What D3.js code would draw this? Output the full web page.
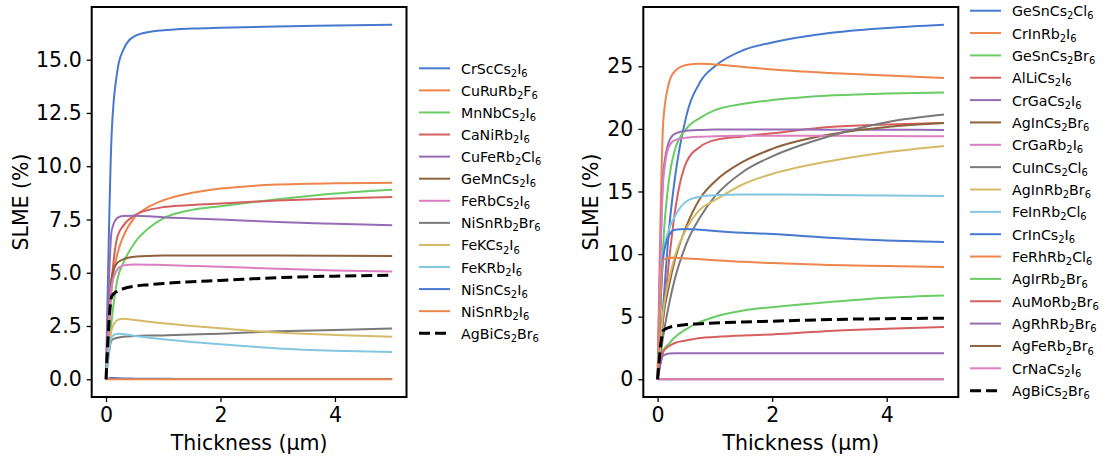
<!DOCTYPE html>
<html>
<head>
<meta charset="utf-8">
<script src="https://cdn.jsdelivr.net/npm/d3@7"></script>
<style>
  body { margin: 0; background: #fff; }
  svg text { font-family: "DejaVu Sans", sans-serif; fill: #000; }
</style>
</head>
<body>
<svg id="chart" width="1105" height="460"></svg>
<script>
// Absorber thickness (µm) at which SLME was evaluated
const thickness = [0, 0.1, 0.2, 0.3, 0.5, 0.75, 1, 1.5, 2, 3, 4, 5];

// Seaborn "muted" colour cycle
const palette = ["#4878d0", "#ee854a", "#6acc64", "#d65f5f", "#956cb4",
                 "#8c613c", "#dc7ec0", "#797979", "#d5bb67", "#82c6e2"];

// Reference compound (dashed, both panels)
const AgBiCs2Br6 = [0, 3.9, 4.14, 4.25, 4.37, 4.44, 4.5, 4.58, 4.64, 4.77, 4.84, 4.88];

// Left panel SLME (%)
const CrScCs2I6  = [0, 11.6, 14.5, 15.45, 16.1, 16.3, 16.38, 16.46, 16.5, 16.56, 16.6, 16.64];
const CuRuRb2F6  = [0, 4.3, 5.9, 6.7, 7.6, 8.1, 8.4, 8.75, 8.95, 9.14, 9.2, 9.22];
const MnNbCs2I6  = [0, 2.8, 4.7, 5.45, 6.4, 7.1, 7.55, 7.95, 8.12, 8.45, 8.72, 8.9];
const CaNiRb2I6  = [0, 4.6, 6.7, 7.2, 7.7, 7.95, 8.08, 8.18, 8.25, 8.39, 8.48, 8.55];
const CuFeRb2Cl6 = [0, 7.0, 7.58, 7.66, 7.68, 7.65, 7.6, 7.55, 7.5, 7.38, 7.3, 7.23];
const GeMnCs2I6  = [0, 4.8, 5.47, 5.63, 5.75, 5.79, 5.81, 5.81, 5.81, 5.81, 5.8, 5.78];
const FeRbCs2I6  = [0, 4.4, 5.16, 5.34, 5.39, 5.38, 5.36, 5.32, 5.28, 5.19, 5.11, 5.06];
const NiSnRb2Br6 = [0, 1.84, 1.95, 2.0, 2.03, 2.05, 2.06, 2.1, 2.14, 2.25, 2.31, 2.38];
const FeKCs2I6   = [0, 2.34, 2.78, 2.84, 2.78, 2.7, 2.63, 2.5, 2.39, 2.19, 2.08, 2.0];
const FeKRb2I6   = [0, 2.0, 2.14, 2.13, 2.03, 1.95, 1.88, 1.75, 1.64, 1.45, 1.34, 1.28];
const NiSnCs2I6  = [0, 0.06, 0.05, 0.04, 0.03, 0.02, 0.02, 0.01, 0.01, 0.01, 0.01, 0.01];
const NiSnRb2I6  = [0, 0, 0, 0, 0, 0, 0, 0, 0, 0, 0, 0];

// Right panel SLME (%)
const GeSnCs2Cl6 = [0, 6.0, 12.0, 16.0, 21.0, 23.8, 25.0, 26.3, 26.9, 27.66, 28.06, 28.32];
const CrInRb2I6  = [0, 20.7, 23.7, 24.6, 25.1, 25.2, 25.15, 24.95, 24.75, 24.47, 24.26, 24.07];
const GeSnCs2Br6 = [0, 11.0, 16.0, 18.3, 20.0, 20.9, 21.5, 22.0, 22.3, 22.66, 22.82, 22.9];
const AlLiCs2I6  = [0, 5.0, 9.5, 13.3, 17.3, 18.6, 19.1, 19.4, 19.65, 20.16, 20.35, 20.48];
const CrGaCs2I6  = [0, 16.5, 19.0, 19.6, 19.85, 19.92, 19.95, 19.95, 19.95, 19.94, 19.93, 19.92];
const AgInCs2Br6 = [0, 5.0, 7.5, 9.5, 12.2, 14.5, 15.8, 17.4, 18.4, 19.55, 20.16, 20.48];
const CrGaRb2I6  = [0, 16.0, 18.6, 19.1, 19.3, 19.38, 19.42, 19.45, 19.46, 19.45, 19.43, 19.41];
const CuInCs2Cl6 = [0, 3.5, 6.0, 8.0, 10.8, 13.0, 14.6, 16.6, 17.8, 19.41, 20.53, 21.14];
const AgInRb2Br6 = [0, 5.5, 8.0, 9.8, 12.0, 13.6, 14.3, 15.6, 16.4, 17.42, 18.14, 18.64];
const FeInRb2Cl6 = [0, 10.0, 12.0, 13.0, 14.2, 14.6, 14.7, 14.75, 14.76, 14.72, 14.68, 14.63];
const CrInCs2I6  = [0, 9.8, 11.5, 11.95, 12.0, 11.95, 11.85, 11.7, 11.6, 11.3, 11.09, 10.96];
const FeRhRb2Cl6 = [0, 9.55, 9.7, 9.7, 9.65, 9.58, 9.5, 9.38, 9.28, 9.12, 9.04, 8.96];
const AgIrRb2Br6 = [0, 2.3, 2.85, 3.35, 4.0, 4.6, 5.0, 5.5, 5.75, 6.17, 6.52, 6.7];
const AuMoRb2Br6 = [0, 2.2, 2.65, 2.9, 3.1, 3.3, 3.38, 3.5, 3.58, 3.86, 4.04, 4.18];
const AgRhRb2Br6 = [0, 1.9, 2.05, 2.08, 2.07, 2.07, 2.07, 2.07, 2.07, 2.07, 2.07, 2.07];
const AgFeRb2Br6 = [0, 0, 0, 0, 0, 0, 0, 0, 0, 0, 0, 0];
const CrNaCs2I6  = [0, 0, 0, 0, 0, 0, 0, 0, 0, 0, 0, 0];

const leftNames  = ["CrScCs2I6", "CuRuRb2F6", "MnNbCs2I6", "CaNiRb2I6", "CuFeRb2Cl6", "GeMnCs2I6",
                    "FeRbCs2I6", "NiSnRb2Br6", "FeKCs2I6", "FeKRb2I6", "NiSnCs2I6", "NiSnRb2I6"];
const leftSeries = [CrScCs2I6, CuRuRb2F6, MnNbCs2I6, CaNiRb2I6, CuFeRb2Cl6, GeMnCs2I6,
                    FeRbCs2I6, NiSnRb2Br6, FeKCs2I6, FeKRb2I6, NiSnCs2I6, NiSnRb2I6];

const rightNames  = ["GeSnCs2Cl6", "CrInRb2I6", "GeSnCs2Br6", "AlLiCs2I6", "CrGaCs2I6", "AgInCs2Br6",
                     "CrGaRb2I6", "CuInCs2Cl6", "AgInRb2Br6", "FeInRb2Cl6", "CrInCs2I6", "FeRhRb2Cl6",
                     "AgIrRb2Br6", "AuMoRb2Br6", "AgRhRb2Br6", "AgFeRb2Br6", "CrNaCs2I6"];
const rightSeries = [GeSnCs2Cl6, CrInRb2I6, GeSnCs2Br6, AlLiCs2I6, CrGaCs2I6, AgInCs2Br6,
                     CrGaRb2I6, CuInCs2Cl6, AgInRb2Br6, FeInRb2Cl6, CrInCs2I6, FeRhRb2Cl6,
                     AgIrRb2Br6, AuMoRb2Br6, AgRhRb2Br6, AgFeRb2Br6, CrNaCs2I6];

const refName = "AgBiCs2Br6";

const xTicks = [0, 2, 4];
const leftYTicks = [0, 2.5, 5, 7.5, 10, 12.5, 15];
const rightYTicks = [0, 5, 10, 15, 20, 25];

const FONT = 20.5;     // tick labels and axis titles
const LEG_FONT = 14.2; // legend entries

const svg = d3.select("#chart");

// Write a formula with its digits as subscripts
function formula(sel, name, size) {
  const parts = name.match(/[0-9]+|[^0-9]+/g);
  let shifted = false;
  parts.forEach(p => {
    const isSub = /^[0-9]+$/.test(p);
    const t = sel.append("tspan").text(p);
    if (isSub) {
      t.attr("font-size", size * 0.7).attr("dy", shifted ? 0 : size * 0.22);
      shifted = true;
    } else {
      t.attr("font-size", size).attr("dy", shifted ? -size * 0.22 : 0);
      shifted = false;
    }
  });
}

function panel(cfg) {
  const all = cfg.series.concat([AgBiCs2Br6]).flat();
  const lo = d3.min(all), hi = d3.max(all);
  const m = (hi - lo) * 0.05;
  const xs = d3.scaleLinear().domain([-0.25, 5.25]).range([cfg.left, cfg.right]);
  const ys = d3.scaleLinear().domain([lo - m, hi + m]).range([cfg.bottom, cfg.top]);

  const g = svg.append("g");

  const line = d3.line()
    .x((d, i) => xs(thickness[i]))
    .y(d => ys(d))
    .curve(d3.curveMonotoneX);

  cfg.series.forEach((s, i) => {
    g.append("path").datum(s)
      .attr("d", line)
      .attr("fill", "none")
      .attr("stroke", palette[i % palette.length])
      .attr("stroke-width", 2)
      .attr("stroke-linejoin", "round");
  });
  g.append("path").datum(AgBiCs2Br6)
    .attr("d", line)
    .attr("fill", "none")
    .attr("stroke", "#000")
    .attr("stroke-width", 3)
    .attr("stroke-dasharray", "11,5");

  // axes
  const xAxis = d3.axisBottom(xs).tickValues(xTicks).tickFormat(d3.format("d"))
    .tickSize(5).tickPadding(5);
  const yAxis = d3.axisLeft(ys).tickValues(cfg.yTicks).tickFormat(d3.format(cfg.yFmt))
    .tickSize(5).tickPadding(5);

  const gx = g.append("g").attr("transform", `translate(0,${cfg.bottom})`).call(xAxis);
  const gy = g.append("g").attr("transform", `translate(${cfg.left},0)`).call(yAxis);
  [gx, gy].forEach(a => {
    a.select(".domain").remove();
    a.selectAll(".tick line").attr("stroke", "#000").attr("stroke-width", 1.3);
    a.selectAll(".tick text").attr("font-size", FONT).attr("fill", "#000")
      .style("font-family", "'DejaVu Sans', sans-serif");
  });

  // frame
  g.append("rect")
    .attr("x", cfg.left).attr("y", cfg.top)
    .attr("width", cfg.right - cfg.left).attr("height", cfg.bottom - cfg.top)
    .attr("fill", "none").attr("stroke", "#000").attr("stroke-width", 2);

  // axis titles
  g.append("text")
    .attr("x", (cfg.left + cfg.right) / 2).attr("y", 450)
    .attr("text-anchor", "middle").attr("font-size", FONT)
    .text("Thickness (µm)");
  g.append("text")
    .attr("transform", `translate(${cfg.ylabelX},${(cfg.top + cfg.bottom) / 2}) rotate(-90)`)
    .attr("text-anchor", "middle").attr("font-size", FONT)
    .text("SLME (%)");

  // legend
  const names = cfg.names.concat([refName]);
  names.forEach((n, i) => {
    const y = cfg.legY + i * cfg.legStep;
    const isRef = i === names.length - 1;
    g.append("line")
      .attr("x1", cfg.legX).attr("x2", cfg.legX + 31)
      .attr("y1", y).attr("y2", y)
      .attr("stroke", isRef ? "#000" : palette[i % palette.length])
      .attr("stroke-width", isRef ? 3 : 2)
      .attr("stroke-dasharray", isRef ? "11,5" : null);
    const t = g.append("text")
      .attr("x", cfg.legX + 42).attr("y", y + 5.5);
    formula(t, n, LEG_FONT);
  });
}

panel({
  names: leftNames, series: leftSeries,
  left: 91.7, right: 406.5, top: 7, bottom: 397,
  yTicks: leftYTicks, yFmt: ".1f", ylabelX: 27.5,
  legX: 419, legY: 68.3, legStep: 22.08
});

panel({
  names: rightNames, series: rightSeries,
  left: 643.3, right: 958.3, top: 7, bottom: 397,
  yTicks: rightYTicks, yFmt: "d", ylabelX: 598,
  legX: 970, legY: 10.7, legStep: 22.35
});
</script>
</body>
</html>
